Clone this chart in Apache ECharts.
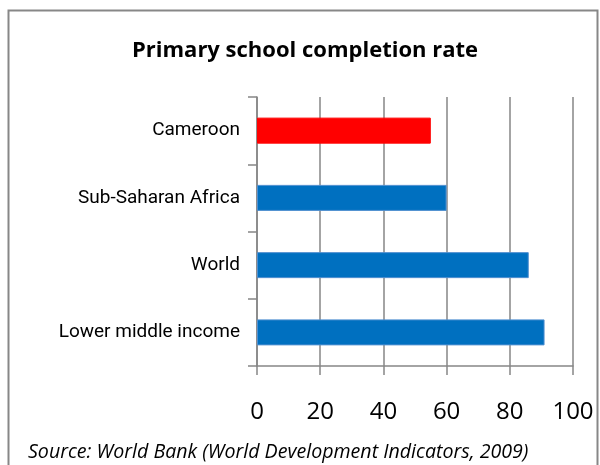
<!DOCTYPE html>
<html><head><meta charset="utf-8">
<script src="https://cdn.jsdelivr.net/npm/echarts@6/dist/echarts.min.js"></script>
<style>html,body{margin:0;padding:0;background:#fff}#c{width:600px;height:465px}</style>
</head><body><div id="c"></div>
<script>
const categories = ['Cameroon', 'Sub-Saharan Africa', 'World', 'Lower middle income'];
const values = [55, 60, 86, 91];
const barColors = ['#FF0000', '#0070C0', '#0070C0', '#0070C0'];
const xTicks = [0, 20, 40, 60, 80, 100];
const titleText = 'Primary school completion rate';
const sourceText = 'Source: World Bank (World Development Indicators, 2009)';

const chart = echarts.init(document.getElementById('c'));
chart.setOption({
  animation: false,
  graphic: [
    { type: 'rect', shape: { x: 8.5, y: 10.5, width: 589, height: 470 },
      style: { fill: 'none', stroke: '#878787', lineWidth: 2 } },
    { type: 'text', x: 305, y: 51,
      style: { text: titleText, textAlign: 'center', textVerticalAlign: 'middle', fontFamily: 'Open Sans', fontWeight: 'bold', fontSize: 22, fill: '#000' } },
    { type: 'text', x: 28, y: 452,
      style: { text: sourceText, textVerticalAlign: 'middle', fontFamily: 'Open Sans', fontStyle: 'italic', fontSize: 19.6, fill: '#000' } }
  ],
  grid: { left: 257, right: 27, top: 97, bottom: 99, containLabel: false },
  xAxis: {
    type: 'value', min: xTicks[0], max: xTicks[xTicks.length - 1], interval: 20,
    axisLine: { show: true, lineStyle: { color: '#868686', width: 1.5 } },
    axisTick: { show: true, length: 9, lineStyle: { color: '#868686', width: 1.5 } },
    splitLine: { show: true, lineStyle: { color: '#868686', width: 1.5 } },
    axisLabel: { margin: 34, fontFamily: 'Open Sans', fontSize: 24, color: '#000' }
  },
  yAxis: {
    type: 'category', data: categories, inverse: true,
    axisLine: { show: true, lineStyle: { color: '#868686', width: 1.5 } },
    axisTick: { show: true, length: 9, lineStyle: { color: '#868686', width: 1.5 } },
    axisLabel: { margin: 17, fontFamily: 'Roboto', fontSize: 19, color: '#000' }
  },
  series: [{
    type: 'bar', barWidth: 26,
    data: values.map((v, i) => ({ value: v, itemStyle: { color: barColors[i], borderColor: i === 0 ? barColors[i] : '#4f8fd0', borderWidth: 1 } }))
  }]
});
</script></body></html>
